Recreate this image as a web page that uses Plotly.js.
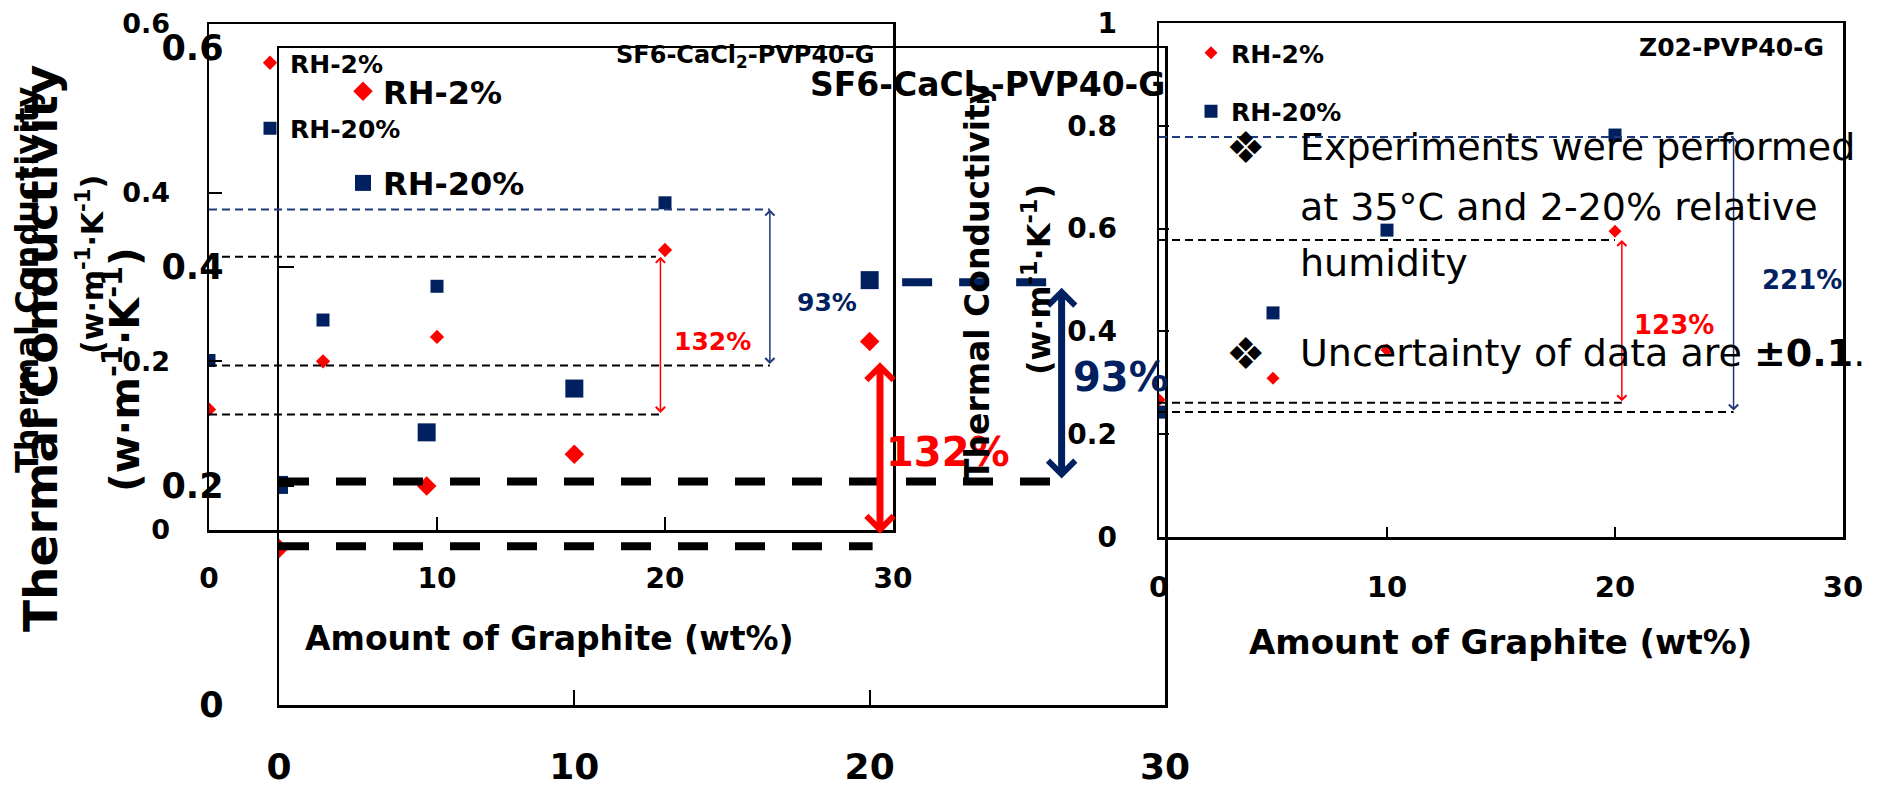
<!DOCTYPE html>
<html>
<head>
<meta charset="utf-8">
<script src="https://cdn.plot.ly/plotly-3.0.1.min.js"></script>
<style>html,body{margin:0;padding:0;background:#fff;}#chart{width:1877px;height:787px;}</style>
</head>
<body>
<div id="chart"></div>
<script>
// ---------------- data ----------------
const graphite = [0, 5, 10, 20];
const sf6Rh2 = [0.143, 0.200, 0.229, 0.332];
const sf6Rh20 = [0.201, 0.249, 0.289, 0.388];
const z02Rh2 = [0.267, 0.309, 0.364, 0.595];
const z02Rh20 = [0.243, 0.436, 0.597, 0.782];
const seriesNames = ['RH-2%', 'RH-20%'];
const xTickVals = [0, 10, 20, 30];
const sf6YTicks = [0, 0.2, 0.4, 0.6];
const z02YTicks = [0, 0.2, 0.4, 0.6, 0.8, 1];
const sf6Title = 'SF6-CaCl<sub>2</sub>-PVP40-G';
const z02Title = 'Z02-PVP40-G';
const xTitle = 'Amount of Graphite (wt%)';
const yTitle1 = 'Thermal Conductivity';
const yTitle2 = '(w·m<sup>-1</sup>·K<sup>-1</sup>)';
const sf6Gain = ['132%', '93%'];
const z02Gain = ['123%', '221%'];
const notes = ['Experiments were performed', 'at 35°C and 2-20% relative', 'humidity',
               'Uncertainty of data are <b>±0.1</b>.'];

// ---------------- styling helpers ----------------
const W = 1877, H = 787;
const X = p => p / W;
const Y = p => 1 - p / H;
const RED = '#ff0000', NAVY = '#002060', NAVYL = '#1f3a78';
const FAM = '"DejaVu Sans", Verdana, sans-serif';
const bold = (s, c) => ({family: FAM, size: s, color: c || '#000', weight: 700});
const reg = (s) => ({family: FAM, size: s, color: '#000', weight: 400});

function axisX(dom, anchor, fs, tlen, standoff) {
  return {domain: dom, anchor: anchor, range: [0, 30], tickvals: xTickVals, ticks: 'inside',
    ticklen: tlen, tickwidth: 2, tickcolor: '#000', showline: true, linewidth: 2.5, linecolor: '#000',
    mirror: true, showgrid: false, zeroline: false, tickfont: bold(fs), ticklabelstandoff: standoff,
    fixedrange: true};
}
function axisY(dom, anchor, rng, vals, fs, tlen, standoff) {
  return {domain: dom, anchor: anchor, range: rng, tickvals: vals, ticks: 'inside',
    ticklen: tlen, tickwidth: 2, tickcolor: '#000', showline: true, linewidth: 2.5, linecolor: '#000',
    mirror: true, showgrid: false, zeroline: false, tickfont: bold(fs), ticklabelstandoff: standoff,
    fixedrange: true};
}

// ---------------- traces ----------------
function pair(xa, ya, leg, y2, y20, dSize, sSize) {
  return [
    {x: graphite, y: y2, xaxis: xa, yaxis: ya, legend: leg, name: seriesNames[0], legendgroup: leg + 'a',
     type: 'scatter', mode: 'markers', marker: {symbol: 'diamond', color: RED, size: dSize}},
    {x: graphite, y: y20, xaxis: xa, yaxis: ya, legend: leg, name: seriesNames[1], legendgroup: leg + 'b',
     type: 'scatter', mode: 'markers', marker: {symbol: 'square', color: NAVY, size: sSize}}
  ];
}
const data = [].concat(
  pair('x2', 'y2', 'legend2', sf6Rh2, sf6Rh20, 15, 18),
  pair('x', 'y', 'legend', sf6Rh2, sf6Rh20, 11, 13),
  pair('x3', 'y3', 'legend3', z02Rh2, z02Rh20, 10, 13)
);

// ---------------- shapes (reference lines) ----------------
function hline(xr, yr, x0, x1, y, color, w, dash) {
  return {type: 'line', xref: xr, yref: yr, x0: x0, x1: x1, y0: y, y1: y, layer: 'above',
    line: {color: color, width: w, dash: dash}};
}
const thin = '8px,5px', thick = '30px,27px';
const shapes = [
  // small SF6 panel
  hline('x', 'y', 0, 24.6, 0.380, NAVYL, 2, thin),
  hline('x', 'y', 0, 19.6, 0.324, '#000', 2, thin),
  hline('x', 'y', 0, 24.6, 0.195, '#000', 2, thin),
  hline('x', 'y', 0, 19.8, 0.137, '#000', 2, thin),
  // big SF6 panel
  hline('x2', 'y2', 0, 26.7, 0.204, '#000', 8, thick),
  hline('x2', 'y2', 0, 20.1, 0.145, '#000', 8, thick),
  hline('x2', 'y2', 21.1, 26.0, 0.386, NAVY, 8, thick),
  // Z02 panel
  hline('x3', 'y3', 0, 25.2, 0.778, NAVYL, 2, thin),
  hline('x3', 'y3', 0, 20.0, 0.578, '#000', 2, thin),
  hline('x3', 'y3', 0, 20.3, 0.261, '#000', 2, thin),
  hline('x3', 'y3', 0, 25.2, 0.243, '#000', 2, thin)
];

// ---------------- annotations ----------------
function arrow(xr, yr, x, yTop, yBot, color, w, size) {
  return {xref: xr, yref: yr, axref: xr, ayref: yr, x: x, y: yTop, ax: x, ay: yBot, text: '',
    showarrow: true, arrowhead: 4, startarrowhead: 4, arrowside: 'end+start', arrowwidth: w,
    arrowsize: size, startarrowsize: size, arrowcolor: color, standoff: 0, startstandoff: 0};
}
function label(xr, yr, x, y, text, font, xa, ya, ang) {
  return {xref: xr, yref: yr, x: x, y: y, text: text, showarrow: false, font: font,
    xanchor: xa || 'center', yanchor: ya || 'middle', textangle: ang || 0};
}
const annotations = [
  // arrows
  arrow('x', 'y', 19.8, 0.324, 0.137, RED, 1.5, 1.2),
  arrow('x', 'y', 24.6, 0.380, 0.195, NAVYL, 1.5, 1.2),
  arrow('x2', 'y2', 20.35, 0.313, 0.155, RED, 7, 0.75),
  arrow('x2', 'y2', 26.5, 0.381, 0.2055, NAVY, 7, 0.75),
  arrow('x3', 'y3', 20.3, 0.578, 0.261, RED, 1.5, 1.2),
  arrow('x3', 'y3', 25.2, 0.778, 0.243, NAVYL, 1.5, 1.2),
  // gain labels
  label('x', 'y', 22.1, 0.223, sf6Gain[0], bold(25, RED)),
  label('x', 'y', 27.1, 0.270, sf6Gain[1], bold(25, NAVY)),
  label('x2', 'y2', 22.66, 0.231, sf6Gain[0], bold(40, RED)),
  label('x2', 'y2', 28.5, 0.2995, sf6Gain[1], bold(40, NAVY)),
  label('x3', 'y3', 22.6, 0.412, z02Gain[0], bold(26, RED)),
  label('x3', 'y3', 28.2, 0.500, z02Gain[1], bold(26, NAVY)),
  // panel titles
  label('paper', 'paper', X(876), Y(57), sf6Title, bold(24), 'right'),
  label('paper', 'paper', X(808), Y(86), sf6Title, bold(33), 'left'),
  label('paper', 'paper', X(1826), Y(48), z02Title, bold(25), 'right'),
  // axis titles
  label('paper', 'paper', X(549), Y(638), xTitle, bold(33)),
  label('paper', 'paper', X(1500), Y(642), xTitle, bold(34)),
  label('paper', 'paper', X(27), Y(280), yTitle1, bold(32), 'center', 'middle', -90),
  label('paper', 'paper', X(90), Y(265), yTitle2, bold(30), 'center', 'middle', -90),
  label('paper', 'paper', X(41), Y(349), yTitle1, bold(47), 'center', 'middle', -90),
  label('paper', 'paper', X(122), Y(370), yTitle2, bold(41), 'center', 'middle', -90),
  label('paper', 'paper', X(977), Y(282), yTitle1, bold(33), 'center', 'middle', -90),
  label('paper', 'paper', X(1037), Y(280), yTitle2, bold(32), 'center', 'middle', -90),
  // notes
  label('paper', 'paper', X(1245), Y(147), '❖', reg(44)),
  label('paper', 'paper', X(1245), Y(353), '❖', reg(44)),
  label('paper', 'paper', X(1298), Y(147), notes[0], reg(38), 'left'),
  label('paper', 'paper', X(1298), Y(207), notes[1], reg(38), 'left'),
  label('paper', 'paper', X(1298), Y(263), notes[2], reg(38), 'left'),
  label('paper', 'paper', X(1298), Y(353), notes[3], reg(38), 'left')
];

function legend(x, y, fs, gap) {
  return {x: X(x), y: Y(y), xanchor: 'left', yanchor: 'top', bgcolor: 'rgba(0,0,0,0)',
    borderwidth: 0, font: bold(fs), traceorder: 'grouped', tracegroupgap: gap, itemsizing: 'trace',
    itemclick: false, itemdoubleclick: false};
}

const layout = {
  width: W, height: H, margin: {l: 0, r: 0, t: 0, b: 0},
  paper_bgcolor: '#fff', plot_bgcolor: 'rgba(0,0,0,0)',
  font: {family: FAM, color: '#000'},
  xaxis: axisX([X(209), X(893)], 'y', 28, 13, 22),
  yaxis: axisY([Y(530), Y(24)], 'x', [0, 0.6], sf6YTicks, 27, 13, 31),
  xaxis2: axisX([X(279), X(1165)], 'y2', 36, 15, 28),
  yaxis2: axisY([Y(705), Y(48)], 'x2', [0, 0.6], sf6YTicks, 35, 15, 46),
  xaxis3: axisX([X(1159), X(1843)], 'y3', 29, 10, 23),
  yaxis3: axisY([Y(537), Y(23)], 'x3', [0, 1], z02YTicks, 28, 10, 34),
  legend: legend(250, 40, 25, 30),
  legend2: legend(343, 64, 32, 47),
  legend3: legend(1191, 30, 25, 23),
  shapes: shapes,
  annotations: annotations
};

Plotly.newPlot('chart', data, layout, {staticPlot: true, displayModeBar: false});
</script>
</body>
</html>
